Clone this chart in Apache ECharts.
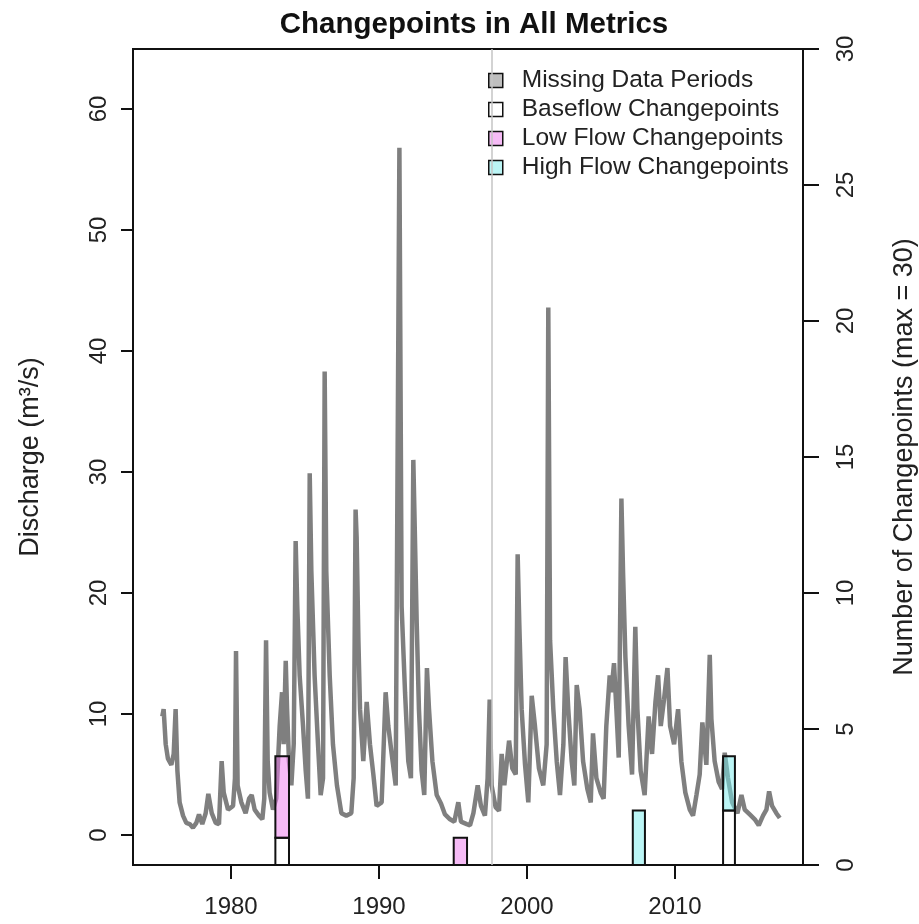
<!DOCTYPE html>
<html>
<head>
<meta charset="utf-8">
<script src="https://cdn.jsdelivr.net/npm/echarts@6/dist/echarts.min.js"></script>
<style>html,body{margin:0;padding:0;background:#fff;}#c{width:919px;height:924px;}</style>
</head>
<body>
<div id="c"></div>
<script>
// Discharge series (decimal year, m3/s)
const dischargeYears = [1975.36,1975.45,1975.59,1975.74,1975.97,1976.13,1976.26,1976.38,1976.53,1976.76,1976.98,1977.21,1977.43,1977.66,1977.84,1978.06,1978.29,1978.47,1978.70,1978.97,1979.19,1979.37,1979.51,1979.80,1980.14,1980.27,1980.34,1980.45,1980.70,1980.99,1981.22,1981.40,1981.60,1981.89,1982.12,1982.25,1982.37,1982.48,1982.61,1982.84,1983.06,1983.29,1983.45,1983.56,1983.70,1983.79,1983.92,1984.08,1984.24,1984.37,1984.48,1984.64,1984.87,1985.05,1985.20,1985.32,1985.43,1985.65,1985.88,1986.06,1986.22,1986.33,1986.44,1986.67,1986.89,1987.16,1987.46,1987.79,1988.13,1988.29,1988.42,1988.49,1988.61,1988.72,1988.94,1989.17,1989.39,1989.62,1989.84,1990.18,1990.45,1990.63,1990.86,1991.13,1991.38,1991.53,1991.76,1991.98,1992.16,1992.32,1992.43,1992.55,1992.70,1992.88,1993.06,1993.24,1993.38,1993.61,1993.90,1994.19,1994.46,1994.80,1995.09,1995.36,1995.54,1995.93,1996.15,1996.38,1996.67,1996.89,1997.16,1997.34,1997.48,1997.61,1997.88,1998.11,1998.29,1998.47,1998.79,1999.01,1999.24,1999.37,1999.48,1999.64,1999.87,2000.09,2000.32,2000.54,2000.81,2001.10,2001.33,2001.44,2001.56,2001.78,2002.01,2002.23,2002.46,2002.61,2002.79,2003.02,2003.20,2003.36,2003.56,2003.79,2004.08,2004.31,2004.46,2004.69,2004.98,2005.18,2005.36,2005.59,2005.70,2005.88,2006.04,2006.20,2006.38,2006.49,2006.65,2006.87,2007.10,2007.32,2007.46,2007.68,2007.95,2008.22,2008.45,2008.68,2008.86,2009.04,2009.26,2009.49,2009.67,2009.94,2010.21,2010.43,2010.70,2011.00,2011.22,2011.45,2011.67,2011.85,2012.12,2012.35,2012.46,2012.68,2012.95,2013.18,2013.36,2013.58,2013.86,2014.22,2014.49,2014.71,2015.05,2015.39,2015.66,2015.95,2016.18,2016.36,2016.56,2016.85,2017.08];
const dischargeValues = [9.8,10.4,7.5,6.3,5.8,6.7,10.4,5.3,2.7,1.6,1.0,0.9,0.6,1.0,1.7,0.9,1.8,3.4,1.8,1.0,0.9,6.1,3.5,2.1,2.4,4.7,15.2,4.1,2.7,1.8,3.0,3.3,2.1,1.6,1.3,3.0,16.1,6.1,3.5,2.1,3.0,9.0,11.8,7.5,14.4,10.4,6.1,4.1,7.5,24.3,18.9,13.2,9.0,5.3,3.0,29.9,21.8,13.2,7.5,3.3,4.7,38.3,21.8,13.2,7.5,4.1,1.8,1.6,1.8,4.7,26.9,24.6,16.1,10.4,6.1,11.0,7.5,5.0,2.4,2.7,11.8,9.0,6.7,4.1,56.8,18.9,11.8,6.1,4.7,31.0,24.6,17.5,10.4,5.3,3.3,13.8,10.4,6.1,3.3,2.6,1.7,1.3,1.1,2.7,1.1,0.9,0.8,1.8,4.1,2.4,1.6,4.7,11.2,4.1,2.3,2.0,6.7,4.1,7.8,5.5,5.0,23.2,17.5,10.4,5.8,2.7,11.5,9.0,5.5,4.1,7.5,43.6,16.1,10.4,6.1,3.3,7.5,14.7,10.4,6.1,4.1,12.4,10.4,6.1,3.8,2.7,8.4,4.7,3.5,3.0,9.0,13.2,11.8,14.2,10.4,6.4,27.8,21.8,14.7,9.0,5.0,17.2,10.4,5.3,3.3,9.8,6.7,11.0,13.2,9.0,11.2,13.8,9.0,7.5,10.4,6.1,3.5,2.1,1.6,3.3,5.0,9.3,5.8,14.9,9.6,6.1,4.4,3.8,6.8,4.7,2.7,1.8,3.3,2.1,1.7,1.3,0.8,1.6,2.1,3.6,2.4,1.8,1.4];

// Changepoint bars (right axis, counts)
const barStart = [1983.0, 1995.05, 2007.15, 2013.25];
const barEnd   = [1983.92, 1995.95, 2007.97, 2014.05];
const baseflowCounts = [1, 0, 0, 2];
const lowFlowCounts  = [3, 1, 0, 0];
const highFlowCounts = [0, 0, 2, 2];

// Reference vertical line
const markerYear = [1997.62];

// Tick labels
const xTicks = [1980, 1990, 2000, 2010];
const yLeftTicks = [0, 10, 20, 30, 40, 50, 60];
const yRightTicks = [0, 5, 10, 15, 20, 25, 30];

const seriesNames = ['Missing Data Periods', 'Baseflow Changepoints', 'Low Flow Changepoints', 'High Flow Changepoints'];

const FONT = '"Liberation Sans", Arial, sans-serif';
const fills = {
  missing: '#bebebe',
  base: '#ffffff',
  low: 'rgba(238,120,238,0.5)',
  high: 'rgba(120,235,235,0.5)'
};
const Y_LEFT_MIN = -2.48, Y_LEFT_MAX = 64.96;

const discharge = dischargeYears.map((y, i) => [y, dischargeValues[i]]);
const baseRects = [], lowRects = [], highRects = [];
for (let i = 0; i < barStart.length; i++) {
  const b = baseflowCounts[i], l = lowFlowCounts[i], h = highFlowCounts[i];
  if (b > 0) baseRects.push([barStart[i], barEnd[i], 0, b]);
  if (l > 0) lowRects.push([barStart[i], barEnd[i], b, b + l]);
  if (h > 0) highRects.push([barStart[i], barEnd[i], b + l, b + l + h]);
}

function rectRenderer(fill) {
  return function (params, api) {
    const p0 = api.coord([api.value(0), api.value(2)]);
    const p1 = api.coord([api.value(1), api.value(3)]);
    return {
      type: 'rect',
      shape: { x: p0[0], y: p1[1], width: p1[0] - p0[0], height: p0[1] - p1[1] },
      style: { fill: fill, stroke: '#111', lineWidth: 2 }
    };
  };
}
function rectSeries(name, data, fill) {
  return {
    name: name, type: 'custom', xAxisIndex: 0, yAxisIndex: 1,
    renderItem: rectRenderer(fill),
    encode: { x: [0, 1], y: [2, 3] },
    itemStyle: { color: fill, borderColor: '#111', borderWidth: 1.5 },
    data: data, z: 5, silent: true, clip: false
  };
}

const chart = echarts.init(document.getElementById('c'), null, { renderer: 'canvas' });
chart.setOption({
  animation: false,
  backgroundColor: '#ffffff',
  textStyle: { fontFamily: FONT },
  title: {
    text: 'Changepoints in All Metrics',
    left: 469, top: 5, textAlign: 'center',
    textStyle: { fontFamily: FONT, fontSize: 29.5, fontWeight: 'bold', color: '#111' }
  },
  legend: {
    orient: 'vertical', left: 483, top: 63,
    itemWidth: 14, itemHeight: 14, itemGap: 4,
    icon: 'rect',
    selectedMode: false,
    textStyle: { fontFamily: FONT, fontSize: 24.5, color: '#222', lineHeight: 24, padding: [0, 0, 0, 14] },
    data: [
      { name: seriesNames[0], itemStyle: { color: fills.missing, borderColor: '#111', borderWidth: 1.5 } },
      { name: seriesNames[1], itemStyle: { color: fills.base, borderColor: '#111', borderWidth: 1.5 } },
      { name: seriesNames[2], itemStyle: { color: fills.low, borderColor: '#111', borderWidth: 1.5 } },
      { name: seriesNames[3], itemStyle: { color: fills.high, borderColor: '#111', borderWidth: 1.5 } }
    ]
  },
  grid: { left: 133, right: 116, top: 49, bottom: 59, show: true, borderColor: '#111', borderWidth: 2, backgroundColor: 'transparent' },
  xAxis: {
    type: 'value', min: 1973.38, max: 2018.65, position: 'bottom',
    axisLine: { show: true, onZero: false, lineStyle: { color: '#111', width: 2 } },
    splitLine: { show: false },
    axisTick: { show: true, customValues: xTicks, length: 14, lineStyle: { color: '#111', width: 2 } },
    axisLabel: { customValues: xTicks, fontSize: 24, color: '#222', margin: 30, fontFamily: FONT, formatter: v => String(v) }
  },
  yAxis: [
    {
      type: 'value', min: Y_LEFT_MIN, max: Y_LEFT_MAX, position: 'left',
      axisLine: { show: false, onZero: false }, splitLine: { show: false },
      axisTick: { show: true, customValues: yLeftTicks, length: 12, lineStyle: { color: '#111', width: 2 } },
      axisLabel: { customValues: yLeftTicks, rotate: 90, fontSize: 24, color: '#222', margin: 22, fontFamily: FONT, formatter: v => String(v) }
    },
    {
      type: 'value', min: 0, max: 30, interval: 5, position: 'right',
      axisLine: { show: false, onZero: false }, splitLine: { show: false },
      axisTick: { show: true, length: 16, lineStyle: { color: '#111', width: 2 } },
      axisLabel: { rotate: 90, fontSize: 24, color: '#222', margin: 31, fontFamily: FONT }
    }
  ],
  graphic: [
    { type: 'text', x: 31, y: 457, rotation: Math.PI / 2,
      style: { text: 'Discharge (m³/s)', font: '27px ' + FONT, fill: '#222', textAlign: 'center', textVerticalAlign: 'middle' } },
    { type: 'text', x: 905, y: 457, rotation: Math.PI / 2,
      style: { text: 'Number of Changepoints (max = 30)', font: '27px ' + FONT, fill: '#222', textAlign: 'center', textVerticalAlign: 'middle' } }
  ],
  series: [
    {
      name: 'marker', type: 'line', data: [], z: 1,
      markLine: {
        silent: true, symbol: 'none', label: { show: false },
        lineStyle: { color: '#c4c4c4', width: 1.5, type: 'solid' },
        data: markerYear.map(v => ({ xAxis: v }))
      }
    },
    {
      name: 'Discharge', type: 'line', data: discharge, xAxisIndex: 0, yAxisIndex: 0,
      showSymbol: false, z: 2, silent: true,
      lineStyle: { color: '#7f7f7f', width: 4.5, join: 'bevel' }
    },
    rectSeries(seriesNames[0], [], fills.missing),
    rectSeries(seriesNames[1], baseRects, fills.base),
    rectSeries(seriesNames[2], lowRects, fills.low),
    rectSeries(seriesNames[3], highRects, fills.high)
  ]
});
</script>
</body>
</html>
